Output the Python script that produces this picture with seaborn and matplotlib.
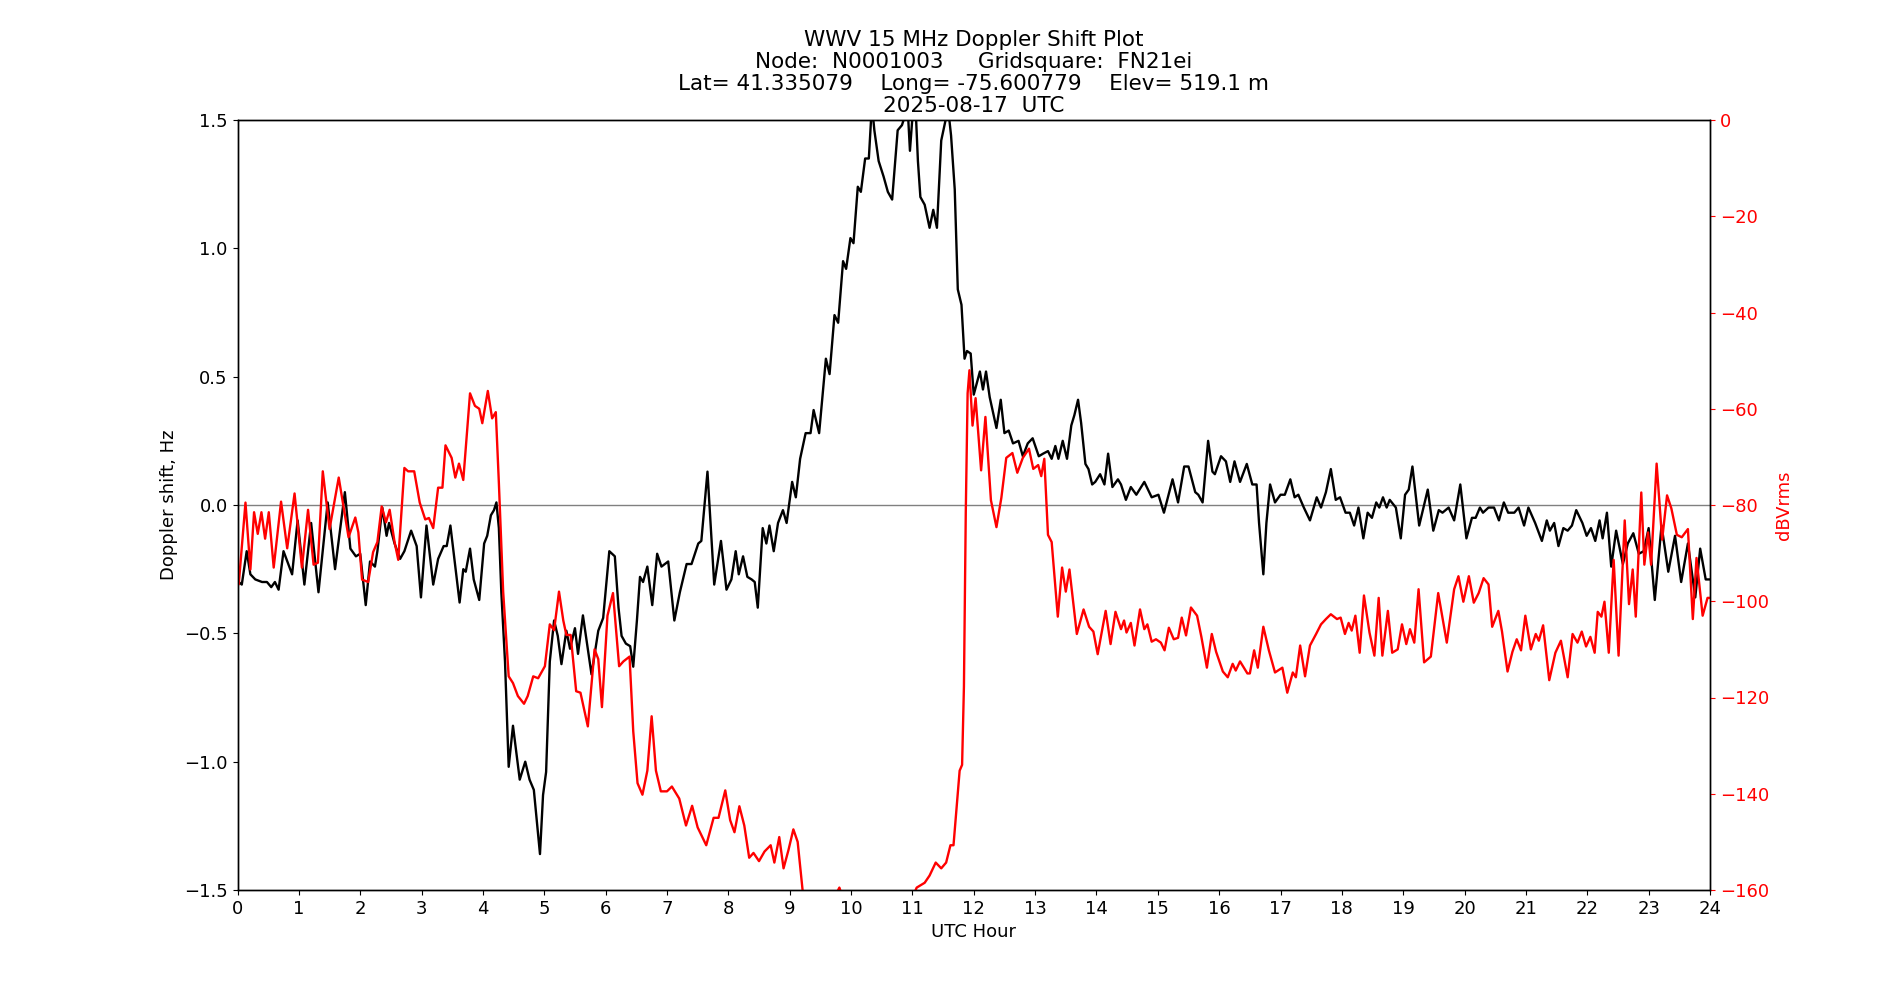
import matplotlib
matplotlib.use("Agg")
import matplotlib.pyplot as plt
import seaborn as sns
import pandas as pd

# ---- Doppler shift (Hz), black ----
dop_hours = [0.0, 0.02, 0.07, 0.15, 0.21, 0.29, 0.40, 0.48, 0.55, 0.61, 0.67, 0.75, 0.89, 0.98, 1.09, 1.20, 1.32, 1.47, 1.59, 1.75, 1.84, 1.93,
             2.0, 2.09, 2.16, 2.24, 2.28, 2.36, 2.43, 2.47, 2.56, 2.65, 2.72, 2.83, 2.92, 2.99, 3.08, 3.19, 3.27, 3.36, 3.41, 3.47, 3.62, 3.68, 3.72, 3.79, 3.85, 3.94,
             4.02, 4.07, 4.13, 4.18, 4.22, 4.26, 4.30, 4.36, 4.42, 4.49, 4.60, 4.69, 4.76, 4.83, 4.93, 4.98, 5.03, 5.09, 5.16, 5.22, 5.28, 5.36, 5.42, 5.50, 5.55, 5.63, 5.77, 5.88, 5.96,
             6.06, 6.15, 6.21, 6.26, 6.33, 6.40, 6.45, 6.51, 6.56, 6.61, 6.68, 6.76, 6.84, 6.91, 7.02, 7.12, 7.21, 7.32, 7.40, 7.51, 7.56, 7.66, 7.77, 7.88, 7.97,
             8.05, 8.12, 8.17, 8.24, 8.31, 8.38, 8.43, 8.48, 8.56, 8.62, 8.67, 8.74, 8.81, 8.89, 8.95, 9.04, 9.10, 9.17, 9.26, 9.34, 9.39, 9.48, 9.59, 9.65, 9.73, 9.79, 9.87, 9.92, 9.99,
             10.04, 10.11, 10.16, 10.23, 10.29, 10.34, 10.38, 10.45, 10.53, 10.60, 10.67, 10.76, 10.83, 10.87, 10.92, 10.96, 11.0, 11.05, 11.09, 11.13, 11.20, 11.28, 11.34, 11.40, 11.47, 11.55, 11.58, 11.63, 11.69, 11.74, 11.80, 11.85, 11.89, 11.95,
             12.0, 12.10, 12.15, 12.20, 12.26, 12.37, 12.44, 12.50, 12.57, 12.64, 12.73, 12.80, 12.88, 12.96, 13.06, 13.13, 13.21, 13.27, 13.33, 13.38, 13.45, 13.52, 13.59, 13.64, 13.70, 13.75, 13.82, 13.87, 13.93,
             13.98, 14.06, 14.13, 14.19, 14.26, 14.35, 14.40, 14.48, 14.56, 14.65, 14.78, 14.90, 15.01, 15.10, 15.24, 15.33, 15.43, 15.50, 15.61, 15.66, 15.73, 15.82, 15.89,
             15.93, 16.03, 16.11, 16.18, 16.25, 16.34, 16.45, 16.54, 16.61, 16.65, 16.72, 16.77, 16.83, 16.91, 17.00, 17.07, 17.16, 17.23, 17.29, 17.38, 17.48, 17.59, 17.66, 17.74, 17.82, 17.90, 17.97,
             18.06, 18.13, 18.20, 18.27, 18.35, 18.42, 18.49, 18.56, 18.61, 18.67, 18.73, 18.78, 18.88, 18.96, 19.03, 19.09, 19.15, 19.26, 19.40, 19.49, 19.58, 19.64, 19.74, 19.83, 19.93,
             20.03, 20.12, 20.18, 20.25, 20.30, 20.39, 20.48, 20.56, 20.64, 20.71, 20.81, 20.88, 20.97, 21.04, 21.15, 21.26, 21.34, 21.39, 21.46, 21.53, 21.61, 21.68, 21.75, 21.82, 21.92,
             21.99, 22.06, 22.13, 22.20, 22.25, 22.32, 22.39, 22.47, 22.58, 22.66, 22.75, 22.84, 22.92, 23.00, 23.10, 23.21, 23.32, 23.43, 23.53, 23.64, 23.76, 23.84, 23.93, 24.0]
dop_values = [-0.31, -0.30, -0.31, -0.18, -0.27, -0.29, -0.30, -0.30, -0.32, -0.30, -0.33, -0.18, -0.27, -0.06, -0.31, -0.07, -0.34, 0.01, -0.25, 0.05, -0.17, -0.20,
              -0.19, -0.39, -0.22, -0.24, -0.18, -0.01, -0.12, -0.07, -0.15, -0.21, -0.18, -0.10, -0.16, -0.36, -0.08, -0.31, -0.21, -0.16, -0.16, -0.08, -0.38, -0.25, -0.26, -0.17, -0.29, -0.37,
              -0.15, -0.12, -0.04, -0.02, 0.01, -0.09, -0.34, -0.61, -1.02, -0.86, -1.07, -1.00, -1.07, -1.11, -1.36, -1.13, -1.04, -0.61, -0.45, -0.51, -0.62, -0.49, -0.56, -0.48, -0.58, -0.43, -0.66, -0.49, -0.44,
              -0.18, -0.20, -0.40, -0.51, -0.54, -0.55, -0.63, -0.45, -0.28, -0.30, -0.24, -0.39, -0.19, -0.24, -0.22, -0.45, -0.34, -0.23, -0.23, -0.15, -0.14, 0.13, -0.31, -0.14, -0.33,
              -0.29, -0.18, -0.27, -0.20, -0.28, -0.29, -0.30, -0.40, -0.09, -0.15, -0.08, -0.18, -0.07, -0.02, -0.07, 0.09, 0.03, 0.18, 0.28, 0.28, 0.37, 0.28, 0.57, 0.51, 0.74, 0.71, 0.95, 0.92, 1.04,
              1.02, 1.24, 1.22, 1.35, 1.35, 1.56, 1.46, 1.34, 1.28, 1.22, 1.19, 1.46, 1.48, 1.51, 1.56, 1.38, 1.51, 1.56, 1.34, 1.20, 1.17, 1.08, 1.15, 1.08, 1.42, 1.51, 1.55, 1.44, 1.23, 0.84, 0.78, 0.57, 0.60, 0.59,
              0.43, 0.52, 0.45, 0.52, 0.42, 0.30, 0.41, 0.28, 0.29, 0.24, 0.25, 0.19, 0.24, 0.26, 0.19, 0.20, 0.21, 0.18, 0.23, 0.18, 0.25, 0.18, 0.31, 0.35, 0.41, 0.32, 0.16, 0.14, 0.08,
              0.09, 0.12, 0.08, 0.20, 0.07, 0.10, 0.08, 0.02, 0.07, 0.04, 0.09, 0.03, 0.04, -0.03, 0.10, 0.01, 0.15, 0.15, 0.05, 0.04, 0.01, 0.25, 0.13,
              0.12, 0.19, 0.17, 0.09, 0.17, 0.09, 0.16, 0.08, 0.08, -0.07, -0.27, -0.07, 0.08, 0.01, 0.04, 0.04, 0.10, 0.03, 0.04, -0.01, -0.06, 0.03, -0.01, 0.05, 0.14, 0.02, 0.03,
              -0.03, -0.03, -0.08, -0.01, -0.13, -0.03, -0.05, 0.01, -0.01, 0.03, -0.01, 0.02, -0.01, -0.13, 0.04, 0.06, 0.15, -0.08, 0.06, -0.10, -0.02, -0.03, -0.01, -0.06, 0.08,
              -0.13, -0.05, -0.05, -0.01, -0.03, -0.01, -0.01, -0.06, 0.01, -0.03, -0.03, -0.01, -0.08, -0.01, -0.07, -0.14, -0.06, -0.10, -0.07, -0.16, -0.09, -0.10, -0.08, -0.02, -0.07,
              -0.12, -0.09, -0.14, -0.06, -0.13, -0.03, -0.24, -0.10, -0.23, -0.15, -0.11, -0.19, -0.18, -0.09, -0.37, -0.08, -0.26, -0.12, -0.30, -0.15, -0.36, -0.17, -0.29, -0.29]

# ---- Signal level (dBVrms), red ----
pwr_hours = [0.0, 0.02, 0.13, 0.21, 0.27, 0.33, 0.39, 0.45, 0.51, 0.59, 0.71, 0.81, 0.93, 1.05, 1.15, 1.24, 1.31, 1.39, 1.50, 1.65, 1.81, 1.92,
             1.97, 2.03, 2.13, 2.21, 2.28, 2.35, 2.42, 2.48, 2.56, 2.62, 2.72, 2.78, 2.88, 2.97, 3.06, 3.12, 3.19, 3.27, 3.34, 3.39, 3.49, 3.55, 3.61, 3.68, 3.79, 3.87, 3.94, 3.99,
             4.08, 4.15, 4.21, 4.26, 4.33, 4.42, 4.49, 4.57, 4.67, 4.73, 4.82, 4.90, 5.01, 5.09, 5.16, 5.24, 5.31, 5.36, 5.43, 5.52, 5.59, 5.71, 5.82, 5.88, 5.94,
             6.03, 6.12, 6.22, 6.29, 6.39, 6.45, 6.52, 6.60, 6.68, 6.75, 6.82, 6.90, 7.00, 7.08, 7.20, 7.31, 7.41, 7.50, 7.64, 7.76, 7.84, 7.95,
             8.03, 8.10, 8.18, 8.26, 8.34, 8.41, 8.50, 8.59, 8.69, 8.75, 8.83, 8.90, 8.98, 9.06, 9.13, 9.21, 9.30, 9.45, 9.60, 9.75, 9.81, 9.90, 10.10, 10.40, 10.70, 10.95, 11.07,
             11.20, 11.28, 11.38, 11.47, 11.55, 11.62, 11.67, 11.73, 11.77, 11.81, 11.84, 11.87, 11.90, 11.93,
             11.98, 12.03, 12.12, 12.19, 12.28, 12.37, 12.45, 12.53, 12.63, 12.71, 12.80, 12.90, 12.97, 13.05, 13.10, 13.15, 13.21, 13.27, 13.37, 13.44, 13.50, 13.56, 13.68, 13.79, 13.88, 13.95,
             14.02, 14.15, 14.23, 14.31, 14.40, 14.45, 14.49, 14.56, 14.62, 14.71, 14.78, 14.83, 14.90, 14.97, 15.05, 15.11, 15.18, 15.26, 15.33, 15.39, 15.46, 15.54, 15.64, 15.71, 15.80, 15.88, 15.95,
             16.06, 16.14, 16.22, 16.27, 16.34, 16.46, 16.50, 16.57, 16.63, 16.72, 16.81, 16.91, 17.03, 17.11, 17.20, 17.25, 17.32, 17.40, 17.48, 17.58, 17.66, 17.74, 17.82, 17.92,
             17.98, 18.05, 18.11, 18.16, 18.22, 18.29, 18.36, 18.45, 18.53, 18.60, 18.66, 18.75, 18.82, 18.91, 18.98, 19.05, 19.11, 19.18, 19.25, 19.34, 19.45, 19.57, 19.71, 19.83, 19.90,
             19.98, 20.07, 20.15, 20.23, 20.31, 20.39, 20.45, 20.55, 20.61, 20.70, 20.78, 20.85, 20.92, 20.99, 21.08, 21.16, 21.21, 21.28, 21.38, 21.48, 21.57, 21.68, 21.76, 21.84, 21.91,
             21.98, 22.05, 22.12, 22.17, 22.23, 22.28, 22.35, 22.43, 22.51, 22.61, 22.68, 22.74, 22.79, 22.88, 22.93, 22.99, 23.04, 23.13, 23.22, 23.30, 23.37, 23.46, 23.54, 23.64, 23.72, 23.78, 23.88, 23.96, 24.0]
pwr_values = [-96, -96.5, -79.5, -93.4, -81.5, -86, -81.5, -87, -81.5, -93, -79.3, -89, -77.6, -93, -81, -92.4, -92, -73, -85, -74.3, -86.7, -82.6,
              -85.7, -95.5, -96, -89.8, -87.7, -80.3, -83.6, -81, -87.7, -91.4, -72.3, -73, -73, -79.5, -83, -82.7, -84.8, -76.4, -76.4, -67.6, -70.2, -74.3, -71.4, -74.8, -56.8, -59.4, -60, -63,
              -56.3, -62, -60.7, -75.4, -98, -115.6, -117, -119.7, -121.3, -119.7, -115.6, -116, -113.5, -104.8, -106, -98, -104, -107, -107, -118.7, -119, -126, -110, -112, -122,
              -103, -98.3, -113.5, -112.5, -111.5, -127, -137.8, -140.2, -135.2, -123.9, -135.2, -139.5, -139.5, -138.5, -141, -146.6, -142.5, -147, -150.7, -145, -145, -139.3,
              -145.5, -148, -142.6, -146.6, -153.3, -152.3, -154, -152, -150.7, -154.3, -149, -155.5, -151.7, -147.4, -150, -160, -164, -166, -165, -161, -159.5, -163, -167, -168, -166, -163, -159.5,
              -158.5, -157, -154.3, -155.5, -154.3, -150.7, -150.7, -141.4, -135.2, -134, -117.7, -81.5, -56.8, -52,
              -63.5, -57.8, -72.8, -61.7, -79, -84.6, -78.5, -70.2, -69.2, -73.3, -70.2, -68.3, -72.5, -71.7, -74, -70.4, -86.2, -87.7, -103.2, -93, -98, -93.4, -106.8, -101.7, -105.3, -106.3,
              -111, -102, -108.9, -102.2, -105.8, -104, -106.5, -104.5, -109.2, -101.7, -105.8, -104.8, -108.4, -107.9, -108.6, -110.2, -105.5, -107.9, -107.6, -103.4, -107.1, -101.3, -103, -107.4, -113.8, -106.8, -110.5,
              -114.6, -115.8, -113, -114.4, -112.5, -115, -115, -110.2, -113.8, -105.3, -110.2, -114.8, -113.8, -119, -114.8, -115.8, -109.2, -115.6, -109.2, -106.8, -104.8, -103.7, -102.7, -103.7,
              -103.4, -106.8, -104.5, -106.1, -103, -110.7, -98.8, -106.5, -111.3, -99.3, -111.3, -102, -110.7, -110, -104.8, -108.9, -105.8, -108.6, -97.5, -112.7, -111.5, -98.3, -108.6, -97.5, -94.8,
              -100.1, -94.8, -100.3, -98.3, -95.2, -96.5, -105.3, -102, -106.3, -114.6, -110.5, -107.9, -110.2, -103, -110, -106.8, -108.2, -105, -116.4, -110.7, -108.2, -115.8, -106.8, -108.6, -106.3,
              -109.4, -107.4, -110.7, -102.2, -103.2, -100.1, -110.7, -91.4, -111.3, -83.2, -100.6, -93.4, -103.2, -77.4, -92.4, -85.7, -92.4, -71.4, -87.2, -78, -80.7, -86.2, -86.7, -85, -103.7, -91, -103, -99.3, -99.3]

x_ticks = list(range(0, 25))
left_ticks = [-1.5, -1.0, -0.5, 0.0, 0.5, 1.0, 1.5]
right_ticks = [0, -20, -40, -60, -80, -100, -120, -140, -160]

title_lines = ["WWV 15 MHz Doppler Shift Plot",
               "Node:  N0001003     Gridsquare:  FN21ei",
               "Lat= 41.335079    Long= -75.600779    Elev= 519.1 m",
               "2025-08-17  UTC"]

dop_df = pd.DataFrame({"hour": dop_hours, "doppler": dop_values})
pwr_df = pd.DataFrame({"hour": pwr_hours, "dbv": pwr_values})

sns.set_style("ticks")
plt.rcParams["font.family"] = ["DejaVu Sans"]
plt.rcParams["font.size"] = 13
plt.rcParams["text.color"] = "black"
plt.rcParams["axes.labelcolor"] = "black"
plt.rcParams["xtick.color"] = "black"
plt.rcParams["ytick.color"] = "black"
plt.rcParams["axes.edgecolor"] = "black"

fig, ax = plt.subplots(figsize=(19, 10), dpi=100)
fig.subplots_adjust(left=0.125, right=0.9, bottom=0.11, top=0.88)

ax.axhline(0, color="gray", linewidth=1)
sns.lineplot(data=dop_df, x="hour", y="doppler", ax=ax, color="black", linewidth=1.7, sort=False)
ax.set_xlim(0, 24)
ax.set_ylim(-1.5, 1.5)
ax.set_xticks(x_ticks)
ax.set_yticks(left_ticks)
ax.set_xlabel("UTC Hour", fontsize=13, color="black")
ax.set_ylabel("Doppler shift, Hz", fontsize=13, color="black")
ax.tick_params(labelsize=13, colors="black")
ax.set_title("\n".join(title_lines), fontsize=15.5, linespacing=1.12, color="black")

ax2 = ax.twinx()
sns.lineplot(data=pwr_df, x="hour", y="dbv", ax=ax2, color="red", linewidth=1.7, sort=False)
ax2.set_ylim(-160, 0)
ax2.set_yticks(right_ticks)
ax2.set_ylabel("dBVrms", color="red", fontsize=13)
ax2.tick_params(axis="y", colors="red", labelsize=13)
ax2.set_xlim(0, 24)

for a in (ax, ax2):
    for s in a.spines.values():
        s.set_visible(True)
        s.set_linewidth(1.0)
        s.set_edgecolor("black")

fig.savefig("out.png", dpi=100)
